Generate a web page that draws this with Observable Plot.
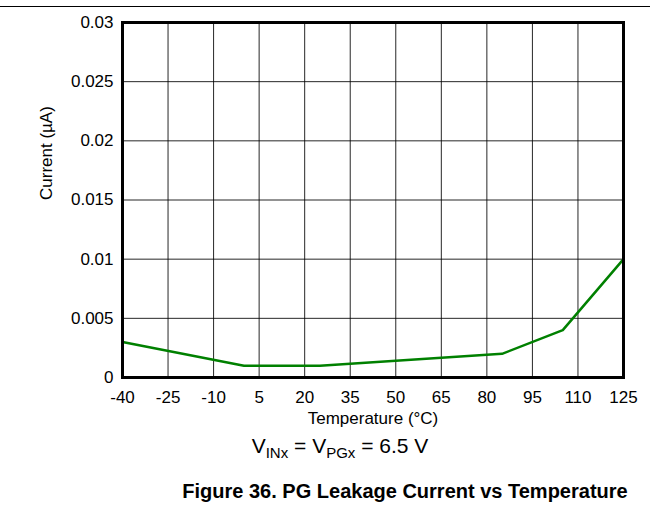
<!DOCTYPE html>
<html>
<head>
<meta charset="utf-8">
<script src="https://cdn.jsdelivr.net/npm/d3@7"></script>
<script src="https://cdn.jsdelivr.net/npm/@observablehq/plot@0.6"></script>
<style>
  html, body { margin: 0; padding: 0; background: #fff; }
  body { width: 658px; height: 508px; position: relative; overflow: hidden; font-family: "Liberation Sans", Arial, sans-serif; }
  #rule { position: absolute; left: 0; top: 6px; width: 650px; height: 0; border-top: 1.5px solid #000; z-index: 2; }
  #chart { position: absolute; left: 0; top: 0; }
  #sub { position: absolute; left: 0; width: 680px; top: 436px; line-height: 20px; text-align: center; font-size: 21px; color: #000; }
  #sub sub { font-size: 15px; vertical-align: -5px; line-height: 0; }
  #cap { position: absolute; left: 0; width: 810px; top: 481px; line-height: 20px; text-align: center; font-size: 20px; font-weight: bold; color: #000; }
</style>
</head>
<body>
<div id="chart"></div>
<div id="rule"></div>
<div id="sub">V<sub>INx</sub> = V<sub>PGx</sub> = 6.5 V</div>
<div id="cap">Figure 36. PG Leakage Current vs Temperature</div>
<script>
const temperature = [-40, 0, 25, 85, 105, 125];
const current = [0.003, 0.001, 0.001, 0.002, 0.004, 0.01];
const xTicks = [-40, -25, -10, 5, 20, 35, 50, 65, 80, 95, 110, 125];
const yTicks = [0, 0.005, 0.01, 0.015, 0.02, 0.025, 0.03];
const yTickLabels = ["0", "0.005", "0.01", "0.015", "0.02", "0.025", "0.03"];

const data = temperature.map((t, i) => ({t, c: current[i]}));
const yFmt = d => yTickLabels[yTicks.findIndex(v => Math.abs(v - d) < 1e-9)];

const plot = Plot.plot({
  width: 658,
  height: 432,
  marginLeft: 122,
  marginRight: 35,
  marginTop: 22,
  marginBottom: 55,
  style: {fontFamily: "'Liberation Sans', Arial, sans-serif", fontSize: "17px", color: "#000", background: "transparent"},
  x: {domain: [-40, 125], label: null},
  y: {domain: [0, 0.03], label: null},
  marks: [
    Plot.gridX(xTicks, {stroke: "#000", strokeOpacity: 0.85, strokeWidth: 1}),
    Plot.gridY(yTicks, {stroke: "#000", strokeOpacity: 0.85, strokeWidth: 1}),
    Plot.axisX({ticks: xTicks, tickSize: 0, tickPadding: 13, fontSize: 17, label: null, tickFormat: d => String(d)}),
    Plot.axisY({ticks: yTicks, tickSize: 0, tickPadding: 9, fontSize: 17, label: null, tickFormat: yFmt}),
    Plot.line(data, {x: "t", y: "c", stroke: "#008000", strokeWidth: 2.5}),
    Plot.frame({stroke: "#000", strokeWidth: 3}),
    Plot.text(["Temperature (°C)"], {frameAnchor: "bottom", lineAnchor: "middle", dy: 41, fontSize: 17, fill: "#000"}),
    Plot.text(["Current (µA)"], {frameAnchor: "left", dx: -76, rotate: -90, fontSize: 17, fill: "#000"})
  ]
});
document.getElementById("chart").append(plot);
</script>
</body>
</html>
